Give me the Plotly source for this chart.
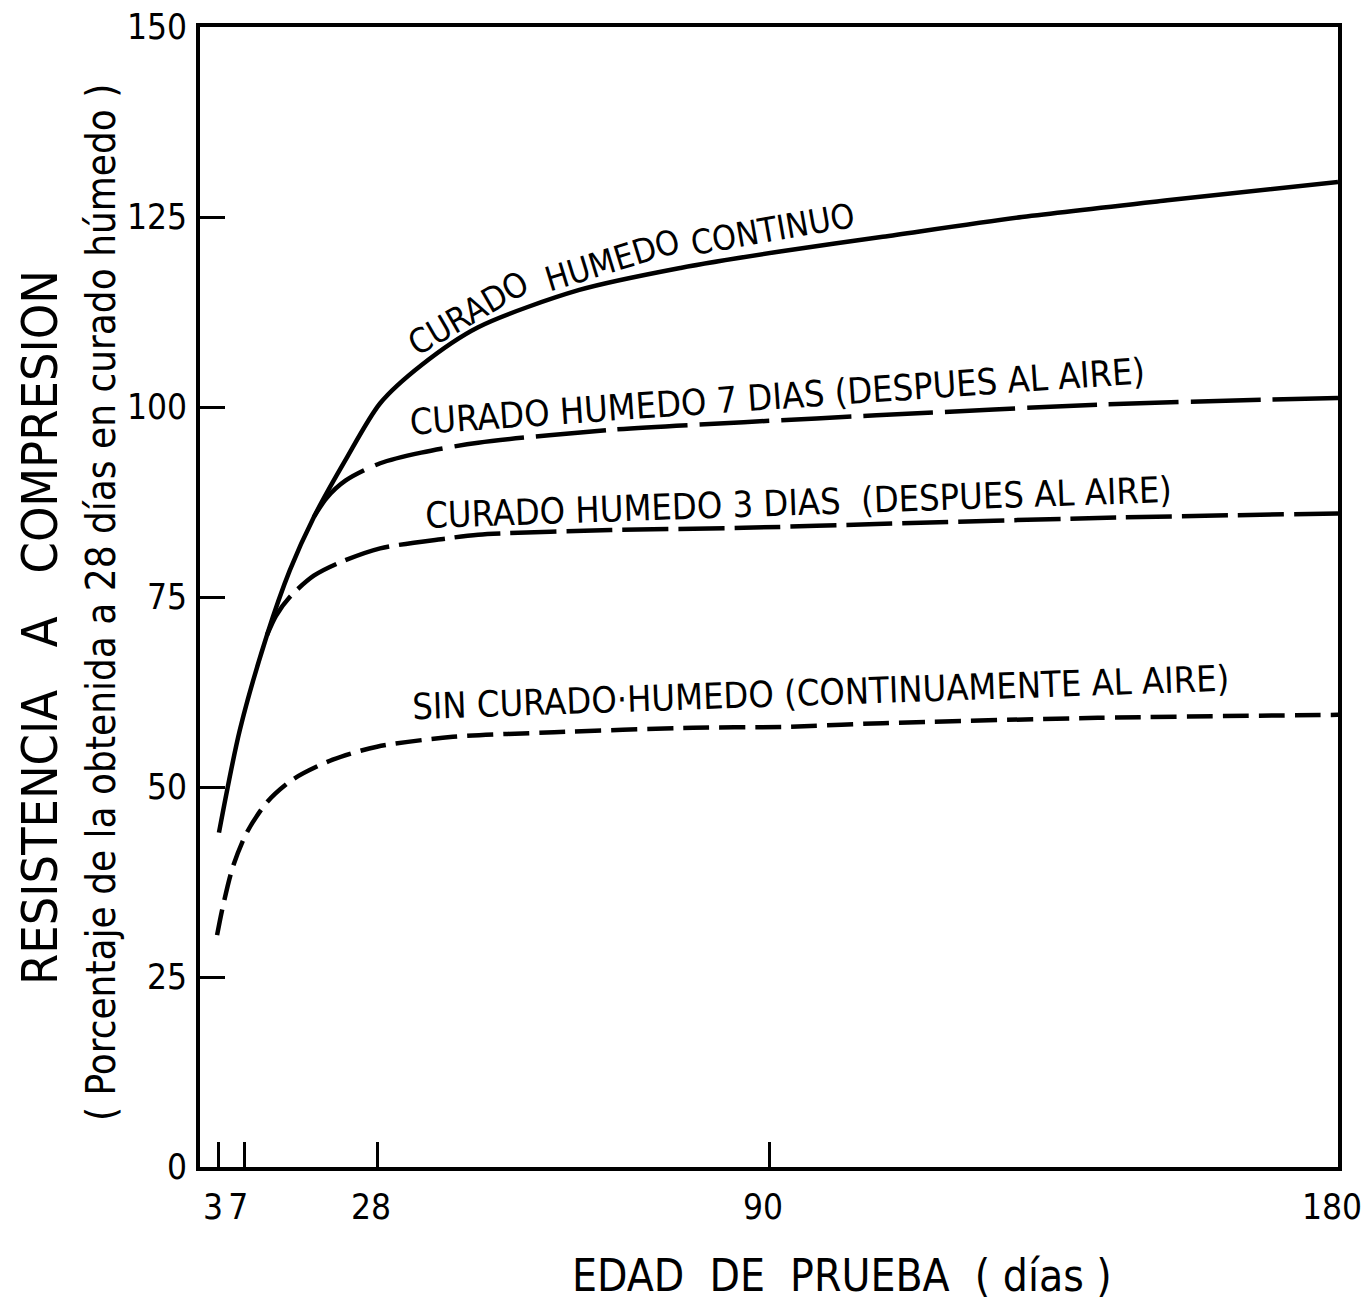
import plotly.graph_objects as go

# ---- data ----
dias_continuo = [3, 6.3, 10.6, 14.2, 18, 23, 28.5, 35, 44, 60, 76, 92, 108, 130, 153, 180]
res_continuo = [44, 57.5, 70, 78.5, 85.5, 93, 100.5, 105.5, 110.5, 115.4, 118.3, 120.5, 122.4, 125.0, 127.2, 129.6]

dias_7 = [18, 20, 23, 28.5, 35, 44, 65, 86, 107, 142, 180]
res_7 = [85.5, 88, 90.3, 92.6, 94, 95.3, 97, 98, 98.9, 100.3, 101.2]

dias_3 = [10.6, 12, 14.2, 18, 22, 28.5, 39, 44, 65, 86, 107, 142, 180]
res_3 = [70, 72.5, 75, 77.8, 79.5, 81.4, 82.7, 83.2, 83.8, 84.1, 84.6, 85.4, 86]

dias_sin = [2.7, 3.6, 5.2, 7.4, 10.6, 14.7, 21, 28, 40, 56, 78, 92, 108, 142, 180]
res_sin = [30.5, 34.2, 39.5, 44, 48, 51, 53.6, 55.3, 56.6, 57.2, 57.8, 57.9, 58.4, 59.1, 59.5]

x_tick_vals = [3, 7, 28, 90, 180]
x_tick_text = ["3", "7", "28", "90", "180"]
y_tick_vals = [0, 25, 50, 75, 100, 125, 150]
y_tick_text = ["0", "25", "50", "75", "100", "125", "150"]

FONT = "DejaVu Sans Condensed"
SP = "&nbsp;"

fig = go.Figure()

def add_curve(x, y, dash):
    fig.add_trace(go.Scatter(
        x=x, y=y, mode="lines",
        line=dict(color="black", width=4.5, dash=dash, shape="spline", smoothing=0.8),
        showlegend=False, hoverinfo="skip"))

add_curve(dias_continuo, res_continuo, "solid")
add_curve(dias_7, res_7, "70px,12px")
add_curve(dias_3, res_3, "46px,10px")
add_curve(dias_sin, res_sin, "26px,10px")

# curve labels (positions in data units)
labels = [
    ("CURADO", 42.4, 112.4, -30, 34),
    ("HUMEDO", 65.2, 119.3, -17, 34),
    ("CONTINUO", 90.6, 123.4, -10, 34),
    ("CURADO HUMEDO 7 DIAS (DESPUES AL AIRE)", 91.3, 101.4, -4, 36),
    ("CURADO HUMEDO 3 DIAS" + SP * 2 + "(DESPUES AL AIRE)", 94.6, 87.5, -2, 36),
    ("SIN CURADO·HUMEDO (CONTINUAMENTE AL AIRE)", 98.1, 62.5, -2, 36),
]
for txt, xx, yy, ang, sz in labels:
    fig.add_annotation(x=xx, y=yy, xref="x", yref="y", text=txt, showarrow=False,
                       xanchor="center", yanchor="middle",
                       textangle=ang, font=dict(family=FONT, size=sz, color="black"))

# axis titles (placed in pixels, converted to paper units below)
L, R, T, B = 200, 28, 27, 143
W, H = 1366, 1310
pw, ph = W - L - R, H - T - B

def px_paper(px, py):
    return (px - L) / pw, (H - B - py) / ph

titles = [
    ("RESISTENCIA" + SP * 3 + "A" + SP * 3 + "COMPRESION", 40, 628, -90, 50),
    ("( Porcentaje de la obtenida a 28 días en curado húmedo )", 101, 603, -90, 40),
    ("EDAD" + SP * 2 + "DE" + SP * 2 + "PRUEBA" + SP * 2 + "( días )", 842, 1275, 0, 44),
]
for txt, px, py, ang, sz in titles:
    xp, yp = px_paper(px, py)
    fig.add_annotation(x=xp, y=yp, xref="paper", yref="paper", text=txt, showarrow=False,
                       xanchor="center", yanchor="middle", textangle=ang,
                       font=dict(family=FONT, size=sz, color="black"))

axis_common = dict(showline=True, linewidth=4, linecolor="black", mirror=True,
                   ticks="inside", tickwidth=3, tickcolor="black", ticklen=25,
                   showgrid=False, zeroline=False, automargin=False,
                   ticklabeloverflow="allow",
                   tickfont=dict(family=FONT, size=35, color="black"))

fig.update_xaxes(range=[0, 180], tickmode="array", tickvals=x_tick_vals, ticktext=x_tick_text,
                 ticklabelstandoff=6, ticklabelshift=-6, **axis_common)
fig.update_yaxes(range=[0, 150], tickmode="array", tickvals=y_tick_vals, ticktext=y_tick_text,
                 ticklabelstandoff=2, **axis_common)

fig.update_layout(width=W, height=H, margin=dict(l=L, r=R, t=T, b=B, autoexpand=False),
                  paper_bgcolor="white", plot_bgcolor="white", showlegend=False)

fig.write_html("out.html", config={"displayModeBar": False},
               post_script="document.body.style.margin='0';")
